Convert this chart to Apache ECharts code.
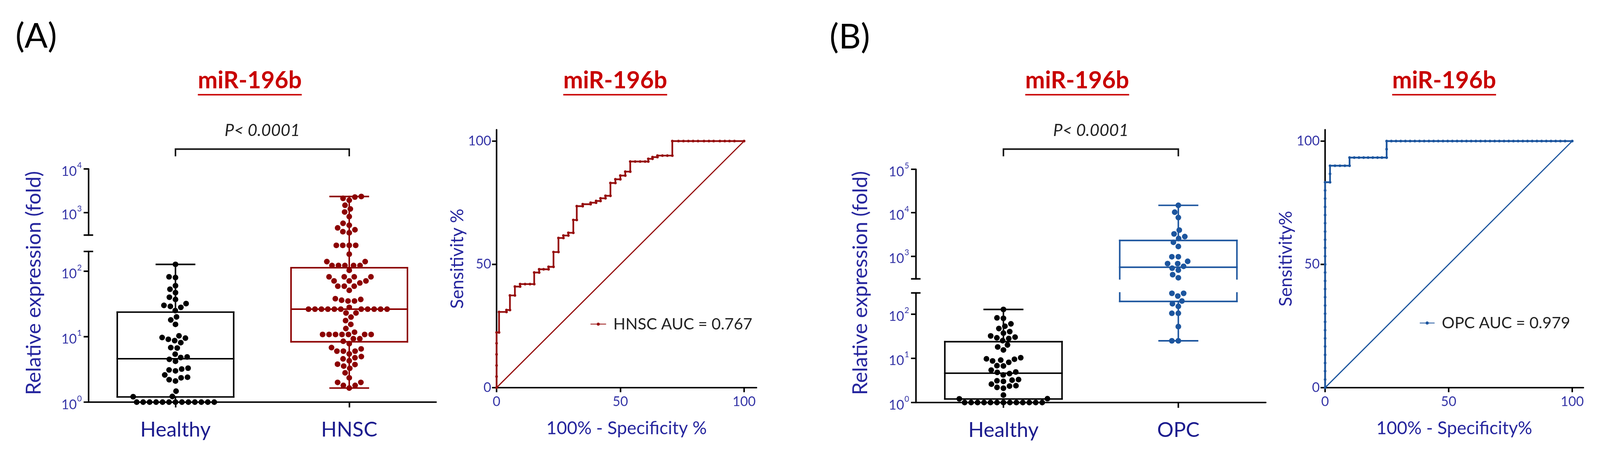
<!DOCTYPE html>
<html>
<head>
<meta charset="utf-8">
<script src="https://cdn.jsdelivr.net/npm/echarts@6.0.0/dist/echarts.min.js"></script>
<style>
html, body { margin: 0; padding: 0; background: #ffffff; overflow: hidden; }
#chart { width: 4208px; height: 1200px; transform-origin: 0 0; }
</style>
</head>
<body>
<div id="chart"></div>
<script>
// ================= DATA =================
const boxCategoriesA = ['Healthy', 'HNSC'];
const boxCategoriesB = ['Healthy', 'OPC'];

// individual samples (relative expression, fold)
const healthyValues = [127, 82, 80, 60, 53, 47, 40, 37, 32, 30, 29, 28, 25, 20, 18, 15.4,
  10.3, 9.7, 9.5, 9.1, 8.7, 8.1, 6.8, 6.7, 5.4, 4.9, 4.8, 4.5, 4.2, 3.3, 3.2, 3.1, 3.0,
  2.6, 2.4, 2.35, 2.2, 2.1, 1.47, 1.22, 1.21, 1, 1, 1, 1, 1, 1, 1, 1, 1, 1, 1, 1, 1];

const hnscValues = [2320, 2250, 2100, 1900, 1460, 1200, 1020, 802, 560, 506, 440, 398, 360, 339,
  248, 248, 248, 248,
  182, 140, 140, 122, 122, 122, 122, 122, 103, 82, 82, 82, 82, 71, 71, 71, 66, 59, 59, 59, 51,
  38, 36, 35, 35, 37,
  26.3, 26.3, 26.3, 26.3, 26.3, 26.3, 26.3, 26.3, 26.3, 26.3, 26.3, 28, 23, 23,
  19.9, 17.6, 15.4, 13.3, 11.7, 10.8, 10.8, 10.8, 10.8, 10.8, 10.8, 10.8,
  9.3, 9.3, 8.5, 7.8, 6.8, 6.5, 6, 6, 6, 5.45, 4.96, 4.76, 4.58, 4.28, 3.8, 3.75, 3.55, 3.28,
  2.8, 2.35, 2, 2, 1.8, 1.8, 1.64];

const opcValues = [14800, 10300, 7750, 3980, 3250, 2820, 2550, 2085, 1670, 968, 968, 760, 673, 673,
  583, 528, 477, 375, 318, 294, 294, 255, 197, 171, 149, 104, 104, 52, 24.8, 24.8];

// box statistics [min, Q1, median, Q3, max]
const healthyBox = [1, 1.2, 4.6, 23.7, 127];
const hnscBox = [1.64, 8.35, 26.3, 113, 2320];
const opcBox = [24.8, 193, 555, 2300, 14800];

// broken log axes: segment ranges and labelled ticks
const rangeLowerA = [1, 200];
const rangeUpperA = [300, 10000];
const rangeLowerB = [1, 300];
const rangeUpperB = [300, 100000];
const ticksLower = [1, 10, 100];
const ticksUpperA = [1000, 10000];
const ticksUpperB = [1000, 10000, 100000];
const rocTicks = [0, 50, 100];

// ROC curves [100% - specificity, sensitivity]
const rocHnscPoints = [[0,0],[0,4.5],[0,9],[0,13.5],[0,18],[0,22.4],[1,22.4],[1,30.7],[4,30.7],[4,31.5],
  [5.4,31.5],[5.4,37.4],[7.4,37.4],[7.4,41],[9.5,41],[9.5,42],[11.5,42],[13.5,42],[15.2,42],[15.2,46.7],
  [17.2,46.7],[17.2,48],[19,48],[21,48],[21,49],[23,49],[23,55],[25,55],[25,60.7],[27,60.7],[27,61.7],
  [29,61.7],[29,62.8],[31,62.8],[31,68],[32.4,68],[32.4,73.6],[34.8,73.6],[34.8,74.4],[38,74.4],[38,75],
  [40.2,75],[40.2,75.7],[42,75.7],[42,76.8],[44,76.8],[44,77.8],[46,77.8],[46,83],[48,83],[48,84.5],
  [50,84.5],[50,86],[52,86],[52,87.6],[54,87.6],[54,91.7],[56,91.7],[58,91.7],[60,91.7],[61.3,91.7],
  [61.3,92.8],[63,92.8],[63,93.5],[65,93.5],[65,94.1],[67,94.1],[69,94.1],[71,94.1],[71,100],
  [73.5,100],[75.5,100],[77.5,100],[79.4,100],[81.4,100],[83.8,100],[85.8,100],[87.7,100],[90.2,100],
  [92.2,100],[94.1,100],[96.1,100],[100,100]];

const rocOpcPoints = [[0,0],[0,3.3],[0,6.7],[0,10],[0,13.3],[0,16.7],[0,20],[0,23.3],[0,26.7],[0,30],
  [0,33.3],[0,36.7],[0,40],[0,43.3],[0,46.7],[0,50],[0,53.3],[0,56.7],[0,60],[0,63.3],[0,66.7],[0,70],
  [0,73.3],[0,76.7],[0,80],[0,83.3],[2,83.3],[2,86.7],[2,90],[4,90],[6,90],[8,90],[9.9,90],[9.9,93.3],
  [11.8,93.3],[13.7,93.3],[15.6,93.3],[17.4,93.3],[19.3,93.3],[21.2,93.3],[23,93.3],[24.9,93.3],
  [24.9,96.7],[24.9,100],[26.8,100],[28.7,100],[30.6,100],[32.5,100],[34.4,100],[36.3,100],[38.2,100],
  [40.1,100],[42,100],[43.9,100],[45.8,100],[47.7,100],[49.6,100],[51.5,100],[53.4,100],[55.3,100],
  [57.2,100],[59.1,100],[61,100],[62.9,100],[64.8,100],[66.7,100],[68.6,100],[70.5,100],[72.4,100],
  [74.3,100],[76.2,100],[78.1,100],[80,100],[81.9,100],[83.8,100],[85.7,100],[87.6,100],[89.5,100],
  [91.4,100],[93.3,100],[95.2,100],[97.1,100],[100,100]];

const chanceLine = [[0, 0], [100, 100]];
const legendA = 'HNSC AUC = 0.767';
const legendB = 'OPC AUC = 0.979';

// ================= STYLE =================
const FONT = 'Lato';
const COL = {
  healthy: '#000000', hnsc: '#8c0000', hnscRoc: '#960f0f', opc: '#1c559e',
  title: '#c80000', tick: '#3434a6', axisTitle: '#26269e', cat: '#1c1c8e', text: '#222222'
};
const BOX_HALF = 0.335, CAP_HALF = 0.11, DOT = 15, DOT_SPACING = 17;
const W = 4208, H = 1200;

const option = {
  animation: false, backgroundColor: '#ffffff',
  textStyle: { fontFamily: FONT },
  grid: [], xAxis: [], yAxis: [], series: [], legend: [], graphic: []
};

function logLabelRich(color) {
  return {
    b: { fontSize: 35, lineHeight: 35, padding: [14, 0, 0, 0], color: color, fontFamily: FONT },
    s: { fontSize: 21, lineHeight: 21, padding: [0, 0, 18, 1], color: color, fontFamily: FONT }
  };
}

function logAxis(gi, range, labels, caps) {
  return {
    gridIndex: gi, type: 'log', logBase: 10, min: range[0], max: range[1], position: 'left',
    axisLine: { show: true, onZero: false, lineStyle: { color: '#000', width: 4 } },
    axisTick: { show: true, length: 13, customValues: labels.concat(caps), lineStyle: { color: '#000', width: 4 } },
    axisLabel: {
      show: true, customValues: labels, margin: 18,
      formatter: function (v) { return '{b|10}{s|' + Math.round(Math.log10(v)) + '}'; },
      rich: logLabelRich(COL.tick)
    },
    splitLine: { show: false }, minorTick: { show: false }, minorSplitLine: { show: false }
  };
}
function capAxis(gi, range, caps) {
  return {
    gridIndex: gi, type: 'log', logBase: 10, min: range[0], max: range[1], position: 'left', offset: 0,
    axisLine: { show: false },
    axisTick: { show: true, inside: true, length: 12, customValues: caps, lineStyle: { color: '#000', width: 4 } },
    axisLabel: { show: false }, splitLine: { show: false }
  };
}

function makeBoxRenderer(segment, gapHalf) {
  return function (params, api) {
    const cs = params.coordSys;
    const top = cs.y, bottom = cs.y + cs.height;
    const wTop = segment === 'lower' ? top - gapHalf : top;
    const wBot = segment === 'upper' ? bottom + gapHalf : bottom;
    const x = api.value(0);
    const v = [1, 2, 3, 4, 5].map(function (i) { return api.value(i); });
    const py = v.map(function (val) { return api.coord([x, val])[1]; });
    const yMin = py[0], yQ1 = py[1], yMed = py[2], yQ3 = py[3], yMax = py[4];
    const cx = api.coord([x, v[2]])[0];
    const bl = api.coord([x - BOX_HALF, v[2]])[0], br = api.coord([x + BOX_HALF, v[2]])[0];
    const cl = api.coord([x - CAP_HALF, v[2]])[0], cr = api.coord([x + CAP_HALF, v[2]])[0];
    const color = api.visual('color');
    const st = { stroke: color, lineWidth: 4, lineCap: 'square', fill: null };
    const clampB = function (y) { return Math.min(Math.max(y, top), bottom); };
    const clampW = function (y) { return Math.min(Math.max(y, wTop), wBot); };
    const inB = function (y) { return y >= top - 0.5 && y <= bottom + 0.5; };
    const ch = [];
    const line = function (x1, y1, x2, y2) { ch.push({ type: 'line', shape: { x1: x1, y1: y1, x2: x2, y2: y2 }, style: st }); };
    const s1 = clampB(yQ3), s2 = clampB(yQ1);
    if (s2 - s1 > 0.5) { line(bl, s1, bl, s2); line(br, s1, br, s2); }
    if (inB(yQ3)) line(bl, yQ3, br, yQ3);
    if (inB(yQ1)) line(bl, yQ1, br, yQ1);
    if (inB(yMed)) line(bl, yMed, br, yMed);
    const u1 = clampW(yQ3), u2 = clampW(yMax);
    if (u1 - u2 > 0.5) line(cx, u1, cx, u2);
    const d1 = clampW(yQ1), d2 = clampW(yMin);
    if (d2 - d1 > 0.5) line(cx, d1, cx, d2);
    if (inB(yMax)) line(cl, yMax, cr, yMax);
    if (inB(yMin)) line(cl, yMin, cr, yMin);
    return { type: 'group', children: ch };
  };
}

const swarmGroups = [];
const boxPanels = [];

function addBoxPanel(p) {
  const gU = option.grid.length;
  option.grid.push({ left: p.left, top: p.upper.top, width: p.width, height: p.upper.bottom - p.upper.top, containLabel: false, outerBoundsMode: 'none' });
  const gL = option.grid.length;
  option.grid.push({ left: p.left, top: p.lower.top, width: p.width, height: p.lower.bottom - p.lower.top, containLabel: false, outerBoundsMode: 'none' });
  const xU = option.xAxis.length;
  option.xAxis.push({ gridIndex: gU, type: 'value', min: 0.5, max: 2.5, show: false, splitLine: { show: false } });
  const xL = option.xAxis.length;
  option.xAxis.push({
    gridIndex: gL, type: 'value', min: 0.5, max: 2.5,
    axisLine: { show: true, onZero: false, lineStyle: { color: '#000', width: 4 } },
    axisTick: { show: true, length: 14, customValues: [1, 2], lineStyle: { color: '#000', width: 4 } },
    axisLabel: {
      show: true, customValues: [1, 2], margin: 46, fontSize: 54, color: COL.cat, fontFamily: FONT,
      formatter: function (v) { return p.cats[Math.round(v) - 1]; }
    },
    splitLine: { show: false }
  });
  const upperCap = [p.upper.range[0] * 1.0001];
  const lowerCap = [p.lower.range[1] * 0.9999];
  const yU = option.yAxis.length;
  option.yAxis.push(logAxis(gU, p.upper.range, p.upper.ticks, upperCap));
  option.yAxis.push(capAxis(gU, p.upper.range, upperCap));
  const yL = option.yAxis.length;
  option.yAxis.push(logAxis(gL, p.lower.range, p.lower.ticks, lowerCap));
  option.yAxis.push(capAxis(gL, p.lower.range, lowerCap));

  const boxData = p.groups.map(function (g, i) { return { value: [i + 1].concat(g.box), itemStyle: { color: g.color } }; });
  option.series.push({ type: 'custom', id: p.id + '-boxL', xAxisIndex: xL, yAxisIndex: yL, clip: false, z: 2, silent: true,
    renderItem: makeBoxRenderer('lower', p.gapHalf), encode: { x: 0, y: [1, 2, 3, 4, 5] }, data: boxData });
  option.series.push({ type: 'custom', id: p.id + '-boxU', xAxisIndex: xU, yAxisIndex: yU, clip: false, z: 2, silent: true,
    renderItem: makeBoxRenderer('upper', p.gapHalf), encode: { x: 0, y: [1, 2, 3, 4, 5] }, data: boxData });

  p.groups.forEach(function (g, i) {
    const pos = i + 1;
    const thr = p.upper.range[0];
    const lowVals = g.values.filter(function (v) { return v < thr; });
    const upVals = g.values.filter(function (v) { return v >= thr; });
    const grp = { pos: pos, parts: [] };
    [[lowVals, xL, yL, 'L'], [upVals, xU, yU, 'U']].forEach(function (part) {
      if (!part[0].length) return;
      const id = p.id + '-dots' + pos + part[3];
      const sIdx = option.series.length;
      option.series.push({ type: 'scatter', id: id, xAxisIndex: part[1], yAxisIndex: part[2], clip: false, z: 3, silent: true,
        symbol: 'circle', symbolSize: DOT, itemStyle: { color: g.color, opacity: 1 },
        data: part[0].map(function (v) { return [pos, v]; }) });
      grp.parts.push({ id: id, sIdx: sIdx, values: part[0] });
    });
    swarmGroups.push(grp);
  });
  boxPanels.push({ xL: xL, p: p });
}

function addRocPanel(p) {
  const g = option.grid.length;
  option.grid.push({ left: p.left, top: p.top, width: p.width, height: p.height, containLabel: false, outerBoundsMode: 'none' });
  const xi = option.xAxis.length;
  option.xAxis.push({
    gridIndex: g, type: 'value', min: 0, max: p.xMax,
    axisLine: { show: true, onZero: false, lineStyle: { color: '#000', width: 4 } },
    axisTick: { show: true, length: 12, customValues: rocTicks, lineStyle: { color: '#000', width: 4 } },
    axisLabel: { show: true, customValues: rocTicks, margin: 20, fontSize: 35, color: COL.tick, fontFamily: FONT },
    splitLine: { show: false },
    name: p.xName, nameLocation: 'middle', nameGap: 84,
    nameTextStyle: { fontSize: 47, color: COL.axisTitle, fontFamily: FONT }
  });
  const yi = option.yAxis.length;
  option.yAxis.push({
    gridIndex: g, type: 'value', min: 0, max: p.yMax, position: 'left',
    axisLine: { show: true, onZero: false, lineStyle: { color: '#000', width: 4 } },
    axisTick: { show: true, length: 12, customValues: rocTicks, lineStyle: { color: '#000', width: 4 } },
    axisLabel: { show: true, customValues: rocTicks, margin: 14, fontSize: 35, color: COL.tick, fontFamily: FONT },
    splitLine: { show: false },
    name: p.yName, nameLocation: 'middle', nameGap: p.yNameGap, nameRotate: 90,
    nameTextStyle: { fontSize: 47, color: COL.axisTitle, fontFamily: FONT }
  });
  option.series.push({ type: 'line', name: p.legend, xAxisIndex: xi, yAxisIndex: yi, data: p.points,
    symbol: 'circle', symbolSize: 7, showSymbol: true, showAllSymbol: true, z: 3, silent: true,
    lineStyle: { width: 4.5, color: p.color }, itemStyle: { color: p.color } });
  option.series.push({ type: 'line', xAxisIndex: xi, yAxisIndex: yi, data: chanceLine, symbol: 'none', z: 2, silent: true,
    lineStyle: { width: 3, color: p.color } });
  option.legend.push({
    data: [p.legend], left: p.legendLeft, top: p.legendTop, padding: 0, selectedMode: false,
    itemWidth: p.legendItemWidth, itemHeight: 10,
    textStyle: { fontSize: 42, color: COL.text, fontFamily: FONT, padding: [0, 0, 0, 14] }
  });
}

// ---- Panel A ----
addBoxPanel({
  id: 'A', left: 233, width: 914, gapHalf: 21.5, cats: boxCategoriesA,
  upper: { top: 444, bottom: 618, range: rangeUpperA, ticks: ticksUpperA },
  lower: { top: 661, bottom: 1057, range: rangeLowerA, ticks: ticksLower },
  groups: [{ values: healthyValues, box: healthyBox, color: COL.healthy }, { values: hnscValues, box: hnscBox, color: COL.hnsc }]
});
addRocPanel({
  left: 1306, top: 341, width: 683.5, height: 678, xMax: 105, yMax: 104.6,
  xName: '100% - Specificity %', yName: 'Sensitivity %', yNameGap: 70,
  points: rocHnscPoints, color: COL.hnscRoc, legend: legendA, legendLeft: 1552, legendTop: 831, legendItemWidth: 41
});
// ---- Panel B ----
addBoxPanel({
  id: 'B', left: 2409, width: 920, gapHalf: 18.5, cats: boxCategoriesB,
  upper: { top: 445, bottom: 733, range: rangeUpperB, ticks: ticksUpperB },
  lower: { top: 770, bottom: 1058, range: rangeLowerB, ticks: ticksLower },
  groups: [{ values: healthyValues, box: healthyBox, color: COL.healthy }, { values: opcValues, box: opcBox, color: COL.opc }]
});
addRocPanel({
  left: 3485, top: 341, width: 679.25, height: 678, xMax: 104.5, yMax: 104.6,
  xName: '100% - Specificity%', yName: 'Sensitivity%', yNameGap: 68,
  points: rocOpcPoints, color: COL.opc, legend: legendB, legendLeft: 3733, legendTop: 828, legendItemWidth: 39
});

// fit the 4208x1200 design into whatever viewport the page really gets
const vw = window.innerWidth || W, vh = window.innerHeight || H;
const fit = Math.min(1, vw / W, vh / H);
const dom = document.getElementById('chart');
dom.style.transform = 'scale(' + fit + ')';
const chart = echarts.init(dom, null, { renderer: 'canvas', width: W, height: H, devicePixelRatio: (window.devicePixelRatio || 1) * fit });
chart.setOption(option);

// ---- beeswarm layout of the dots (pixel space, via the chart's own scales) ----
function swarm(items, D) {
  const placed = [];
  const order = items.slice().sort(function (a, b) { return b.py - a.py; });
  order.forEach(function (it) {
    const blocks = [];
    placed.forEach(function (q) {
      const dy = Math.abs(q.py - it.py);
      if (dy < D) { const w = Math.sqrt(D * D - dy * dy); blocks.push([q.x - w, q.x + w]); }
    });
    const cands = [0];
    blocks.forEach(function (b) { cands.push(b[0], b[1]); });
    cands.sort(function (a, b) { return Math.abs(a) - Math.abs(b); });
    let x = 0;
    for (let k = 0; k < cands.length; k++) {
      const c = cands[k];
      if (blocks.every(function (b) { return c <= b[0] + 1e-6 || c >= b[1] - 1e-6; })) { x = c; break; }
    }
    it.x = x;
    placed.push(it);
  });
}

const updates = [];
swarmGroups.forEach(function (grp) {
  const items = [];
  grp.parts.forEach(function (part) {
    const p0 = chart.convertToPixel({ seriesIndex: part.sIdx }, [grp.pos, part.values[0]]);
    const p1 = chart.convertToPixel({ seriesIndex: part.sIdx }, [grp.pos + 1, part.values[0]]);
    part.pxPerUnit = p1[0] - p0[0];
    part.values.forEach(function (v, k) {
      items.push({ part: part, k: k, v: v, py: chart.convertToPixel({ seriesIndex: part.sIdx }, [grp.pos, v])[1] });
    });
  });
  swarm(items, DOT_SPACING);
  grp.parts.forEach(function (part) {
    const data = part.values.map(function (v) { return [grp.pos, v]; });
    items.forEach(function (it) { if (it.part === part) data[it.k] = [grp.pos + it.x / part.pxPerUnit, it.v]; });
    updates.push({ id: part.id, data: data });
  });
});

// ---- annotations ----
const measure = document.createElement('canvas').getContext('2d');
function textWidth(font, s) { measure.font = font; return measure.measureText(s).width; }
function txt(x, y, text, font, fill, rot) {
  return { type: 'text', x: x, y: y, rotation: rot || 0, silent: true, z: 10,
    style: { text: text, font: font, fill: fill, align: 'center', verticalAlign: 'middle', textAlign: 'center', textVerticalAlign: 'middle' } };
}
const graphics = [];
graphics.push(txt(95, 96, '(A)', '90px ' + FONT, '#000'));
graphics.push(txt(2235, 98, '(B)', '90px ' + FONT, '#000'));
const titleFont = 'bold 62px ' + FONT;
const tw = textWidth(titleFont, 'miR-196b');
[657, 1618, 2833, 3798].forEach(function (cx) {
  graphics.push(txt(cx, 212, 'miR-196b', titleFont, COL.title));
  graphics.push({ type: 'line', silent: true, z: 10, shape: { x1: cx - tw / 2, y1: 249, x2: cx + tw / 2, y2: 249 }, style: { stroke: COL.title, lineWidth: 4 } });
});
graphics.push(txt(89, 744, 'Relative expression (fold)', '54px ' + FONT, COL.axisTitle, Math.PI / 2));
graphics.push(txt(2263, 744, 'Relative expression (fold)', '54px ' + FONT, COL.axisTitle, Math.PI / 2));
boxPanels.forEach(function (bp) {
  const x1 = chart.convertToPixel({ xAxisIndex: bp.xL }, 1);
  const x2 = chart.convertToPixel({ xAxisIndex: bp.xL }, 2);
  graphics.push({ type: 'polyline', silent: true, z: 10, shape: { points: [[x1, 411], [x1, 392], [x2, 392], [x2, 411]] },
    style: { stroke: '#111', lineWidth: 4, fill: null } });
  graphics.push(txt((x1 + x2) / 2, 343, 'P< 0.0001', 'italic 44px ' + FONT, COL.text));
});

chart.setOption({ series: updates, graphic: graphics });
</script>
</body>
</html>
